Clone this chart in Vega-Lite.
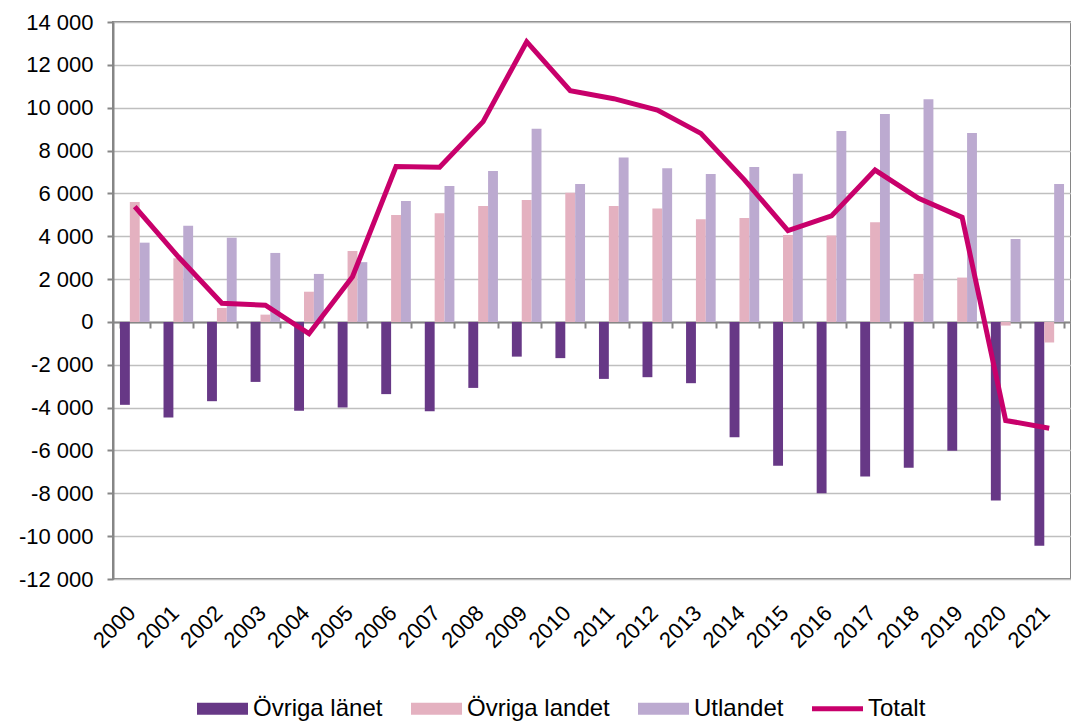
{
  "$schema": "https://vega.github.io/schema/vega-lite/v6.json",
  "autosize": {"type": "none"},
  "padding": {"left": 113, "top": 22, "right": 0, "bottom": 143},
  "width": 958,
  "height": 557,
  "background": "white",
  "config": {
    "font": "Liberation Sans",
    "view": {"stroke": "#868686", "strokeWidth": 2},
    "axis": {"labelFont": "Liberation Sans", "labelColor": "black", "title": null}
  },
  "data": {"values": [
    {"year": "2000", "series": "Övriga länet", "value": -3870},
    {"year": "2000", "series": "Övriga landet", "value": 5600},
    {"year": "2000", "series": "Utlandet", "value": 3700},
    {"year": "2000", "series": "Totalt", "value": 5380},
    {"year": "2001", "series": "Övriga länet", "value": -4460},
    {"year": "2001", "series": "Övriga landet", "value": 2970},
    {"year": "2001", "series": "Utlandet", "value": 4490},
    {"year": "2001", "series": "Totalt", "value": 3040},
    {"year": "2002", "series": "Övriga länet", "value": -3700},
    {"year": "2002", "series": "Övriga landet", "value": 650},
    {"year": "2002", "series": "Utlandet", "value": 3930},
    {"year": "2002", "series": "Totalt", "value": 870},
    {"year": "2003", "series": "Övriga länet", "value": -2800},
    {"year": "2003", "series": "Övriga landet", "value": 340},
    {"year": "2003", "series": "Utlandet", "value": 3220},
    {"year": "2003", "series": "Totalt", "value": 780},
    {"year": "2004", "series": "Övriga länet", "value": -4150},
    {"year": "2004", "series": "Övriga landet", "value": 1410},
    {"year": "2004", "series": "Utlandet", "value": 2240},
    {"year": "2004", "series": "Totalt", "value": -550},
    {"year": "2005", "series": "Övriga länet", "value": -4000},
    {"year": "2005", "series": "Övriga landet", "value": 3310},
    {"year": "2005", "series": "Utlandet", "value": 2790},
    {"year": "2005", "series": "Totalt", "value": 2110},
    {"year": "2006", "series": "Övriga länet", "value": -3370},
    {"year": "2006", "series": "Övriga landet", "value": 4990},
    {"year": "2006", "series": "Utlandet", "value": 5650},
    {"year": "2006", "series": "Totalt", "value": 7250},
    {"year": "2007", "series": "Övriga länet", "value": -4170},
    {"year": "2007", "series": "Övriga landet", "value": 5070},
    {"year": "2007", "series": "Utlandet", "value": 6350},
    {"year": "2007", "series": "Totalt", "value": 7220},
    {"year": "2008", "series": "Övriga länet", "value": -3080},
    {"year": "2008", "series": "Övriga landet", "value": 5410},
    {"year": "2008", "series": "Utlandet", "value": 7050},
    {"year": "2008", "series": "Totalt", "value": 9350},
    {"year": "2009", "series": "Övriga länet", "value": -1620},
    {"year": "2009", "series": "Övriga landet", "value": 5690},
    {"year": "2009", "series": "Utlandet", "value": 9020},
    {"year": "2009", "series": "Totalt", "value": 13080},
    {"year": "2010", "series": "Övriga länet", "value": -1690},
    {"year": "2010", "series": "Övriga landet", "value": 6030},
    {"year": "2010", "series": "Utlandet", "value": 6440},
    {"year": "2010", "series": "Totalt", "value": 10790},
    {"year": "2011", "series": "Övriga länet", "value": -2660},
    {"year": "2011", "series": "Övriga landet", "value": 5410},
    {"year": "2011", "series": "Utlandet", "value": 7670},
    {"year": "2011", "series": "Totalt", "value": 10420},
    {"year": "2012", "series": "Övriga länet", "value": -2580},
    {"year": "2012", "series": "Övriga landet", "value": 5300},
    {"year": "2012", "series": "Utlandet", "value": 7170},
    {"year": "2012", "series": "Totalt", "value": 9890},
    {"year": "2013", "series": "Övriga länet", "value": -2860},
    {"year": "2013", "series": "Övriga landet", "value": 4790},
    {"year": "2013", "series": "Utlandet", "value": 6900},
    {"year": "2013", "series": "Totalt", "value": 8800},
    {"year": "2014", "series": "Övriga länet", "value": -5380},
    {"year": "2014", "series": "Övriga landet", "value": 4850},
    {"year": "2014", "series": "Utlandet", "value": 7230},
    {"year": "2014", "series": "Totalt", "value": 6630},
    {"year": "2015", "series": "Övriga länet", "value": -6710},
    {"year": "2015", "series": "Övriga landet", "value": 4060},
    {"year": "2015", "series": "Utlandet", "value": 6920},
    {"year": "2015", "series": "Totalt", "value": 4260},
    {"year": "2016", "series": "Övriga länet", "value": -8000},
    {"year": "2016", "series": "Övriga landet", "value": 4030},
    {"year": "2016", "series": "Utlandet", "value": 8910},
    {"year": "2016", "series": "Totalt", "value": 4950},
    {"year": "2017", "series": "Övriga länet", "value": -7220},
    {"year": "2017", "series": "Övriga landet", "value": 4650},
    {"year": "2017", "series": "Utlandet", "value": 9710},
    {"year": "2017", "series": "Totalt", "value": 7090},
    {"year": "2018", "series": "Övriga länet", "value": -6810},
    {"year": "2018", "series": "Övriga landet", "value": 2240},
    {"year": "2018", "series": "Utlandet", "value": 10390},
    {"year": "2018", "series": "Totalt", "value": 5770},
    {"year": "2019", "series": "Övriga länet", "value": -6010},
    {"year": "2019", "series": "Övriga landet", "value": 2070},
    {"year": "2019", "series": "Utlandet", "value": 8820},
    {"year": "2019", "series": "Totalt", "value": 4880},
    {"year": "2020", "series": "Övriga länet", "value": -8340},
    {"year": "2020", "series": "Övriga landet", "value": -170},
    {"year": "2020", "series": "Utlandet", "value": 3870},
    {"year": "2020", "series": "Totalt", "value": -4600},
    {"year": "2021", "series": "Övriga länet", "value": -10450},
    {"year": "2021", "series": "Övriga landet", "value": -960},
    {"year": "2021", "series": "Utlandet", "value": 6440},
    {"year": "2021", "series": "Totalt", "value": -4960}
  ]},
  "resolve": {"axis": {"x": "independent"}},
  "layer": [
    {
      "transform": [{"filter": "datum.series !== 'Totalt'"}],
      "mark": {"type": "bar"},
      "encoding": {
        "x": {
          "field": "year", "type": "nominal",
          "scale": {"paddingInner": 0.32, "paddingOuter": 0.16},
          "axis": {"labelAngle": -45, "labelFontSize": 22, "ticks": false, "domain": false, "grid": false, "labelPadding": 23, "labelOffset": -10}
        },
        "xOffset": {
          "field": "series", "type": "nominal",
          "sort": ["Övriga länet", "Övriga landet", "Utlandet"],
          "scale": {"domain": ["Övriga länet", "Övriga landet", "Utlandet"], "paddingInner": 0, "paddingOuter": 0}
        },
        "y": {
          "field": "value", "type": "quantitative",
          "scale": {"domain": [-12000, 14000], "nice": false, "zero": false},
          "axis": {
            "values": [-12000, -10000, -8000, -6000, -4000, -2000, 0, 2000, 4000, 6000, 8000, 10000, 12000, 14000],
            "labelFontSize": 22, "labelPadding": 14, "tickSize": 6, "tickColor": "#868686", "tickWidth": 2,
            "domainColor": "#868686", "domainWidth": 2, "gridColor": "#bfbfbf", "gridWidth": 1.5,
            "labelExpr": "(datum.value < 0 ? '-' : '') + replace(format(abs(datum.value), ','), ',', ' ')"
          }
        },
        "color": {
          "field": "series", "type": "nominal",
          "scale": {"domain": ["Övriga länet", "Övriga landet", "Utlandet", "Totalt"], "range": ["#673886", "#e4b1c0", "#bcaad0", "#c8006b"]},
          "legend": {
            "title": null, "orient": "none", "legendX": 84, "legendY": 661, "direction": "horizontal",
            "symbolSize": 2601, "symbolType": "M-1,-0.235H1V0.235H-1Z", "symbolStrokeWidth": 0,
            "labelFontSize": 24, "labelColor": "black", "labelFont": "Liberation Sans", "labelOffset": 5,
            "columnPadding": 28, "labelLimit": 400,
            "encode": {"symbols": {"update": {
              "shape": {"signal": "datum.value === 'Totalt' ? 'M-1,-0.1H1V0.1H-1Z' : 'M-1,-0.235H1V0.235H-1Z'"},
              "fill": {"scale": "color", "field": "value"},
              "strokeWidth": {"value": 0},
              "opacity": {"value": 1}
            }}}
          }
        }
      }
    },
    {
      "transform": [{"filter": "datum.series === 'Totalt'"}],
      "mark": {"type": "line", "strokeWidth": 5},
      "encoding": {
        "x": {
          "field": "year", "type": "nominal",
          "axis": {"orient": "top", "labels": false, "ticks": true, "tickBand": "extent", "tickSize": -6, "tickColor": "#868686", "tickWidth": 2, "domain": true, "domainColor": "#868686", "domainWidth": 2, "grid": false, "offset": -300}
        },
        "y": {"field": "value", "type": "quantitative"},
        "color": {"field": "series", "type": "nominal"}
      }
    }
  ]
}
